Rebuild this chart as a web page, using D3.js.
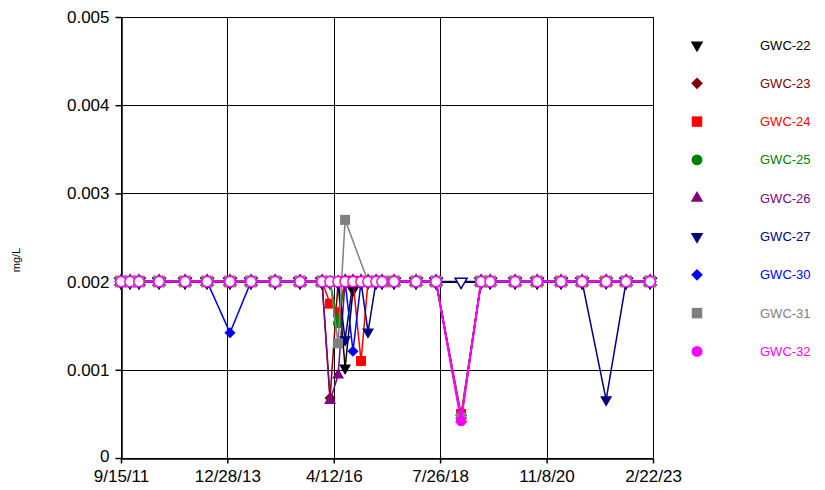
<!DOCTYPE html>
<html>
<head>
<meta charset="utf-8">
<script src="https://cdn.jsdelivr.net/npm/d3@7"></script>
<style>
    body { margin: 0; background: #fff; }
    svg text { font-family: "Liberation Sans", Arial, sans-serif; }
</style>
</head>
<body>
<svg id="chart" width="825" height="490"></svg>
<script>
// sampling dates (shared by all wells)
const dates = ["2011-09-15", "2011-11-25", "2012-02-03", "2012-07-10", "2013-01-30", "2013-07-22",
    "2014-01-18", "2014-07-02", "2015-01-07", "2015-07-22", "2016-01-11", "2016-03-14",
    "2016-05-16", "2016-07-10", "2016-09-10", "2016-11-12", "2017-01-06", "2017-03-10",
    "2017-04-26", "2017-07-29", "2018-01-18", "2018-06-24", "2019-01-07", "2019-06-13",
    "2019-08-23", "2020-03-06", "2020-08-26", "2021-03-02", "2021-08-14", "2022-02-19",
    "2022-07-26", "2023-01-30"];

// mg/L, 0.002 = reporting limit (non-detect)
const gwc22 = [0.002, 0.002, 0.002, 0.002, 0.002, 0.002, 0.002, 0.002, 0.002, 0.002,
    0.002, 0.002, 0.002, 0.00102, 0.0019, 0.002, 0.002, 0.002, 0.002, 0.002,
    0.002, 0.002, 0.00045, 0.002, 0.002, 0.002, 0.002, 0.002, 0.002, 0.002,
    0.002, 0.002];
const gwc23 = [0.002, 0.002, 0.002, 0.002, 0.002, 0.002, 0.002, 0.002, 0.002, 0.002,
    0.002, 0.00068, 0.002, 0.002, 0.002, 0.002, 0.002, 0.002, 0.002, 0.002,
    0.002, 0.002, 0.00046, 0.002, 0.002, 0.002, 0.002, 0.002, 0.002, 0.002,
    0.002, 0.002];
const gwc24 = [0.002, 0.002, 0.002, 0.002, 0.002, 0.002, 0.002, 0.002, 0.002, 0.002,
    0.002, 0.00175, 0.00165, 0.002, 0.002, 0.0011, 0.002, 0.002, 0.002, 0.002,
    0.002, 0.002, 0.0005, 0.002, 0.002, 0.002, 0.002, 0.002, 0.002, 0.002,
    0.002, 0.002];
const gwc25 = [0.002, 0.002, 0.002, 0.002, 0.002, 0.002, 0.002, 0.002, 0.002, 0.002,
    0.002, 0.002, 0.00153, 0.002, 0.002, 0.002, 0.002, 0.002, 0.002, 0.002,
    0.002, 0.002, 0.00045, 0.002, 0.002, 0.002, 0.002, 0.002, 0.002, 0.002,
    0.002, 0.002];
const gwc26 = [0.002, 0.002, 0.002, 0.002, 0.002, 0.002, 0.002, 0.002, 0.002, 0.002,
    0.002, 0.00065, 0.00094, 0.002, 0.002, 0.002, 0.002, 0.002, 0.002, 0.002,
    0.002, 0.002, 0.00044, 0.002, 0.002, 0.002, 0.002, 0.002, 0.002, 0.002,
    0.002, 0.002];
const gwc27 = [0.002, 0.002, 0.002, 0.002, 0.002, 0.002, 0.002, 0.002, 0.002, 0.002,
    0.002, 0.002, 0.002, 0.00134, 0.002, 0.002, 0.00143, 0.002, 0.002, 0.002,
    0.002, 0.002, 0.002, 0.002, 0.002, 0.002, 0.002, 0.002, 0.002, 0.00066,
    0.002, 0.002];
const gwc30 = [0.002, 0.002, 0.002, 0.002, 0.002, 0.002, 0.00142, 0.002, 0.002, 0.002,
    0.002, 0.002, 0.002, 0.002, 0.00121, 0.002, 0.002, 0.002, 0.002, 0.002,
    0.002, 0.002, 0.00045, 0.002, 0.002, 0.002, 0.002, 0.002, 0.002, 0.002,
    0.002, 0.002];
const gwc31 = [0.002, 0.002, 0.002, 0.002, 0.002, 0.002, 0.002, 0.002, 0.002, 0.002,
    0.002, 0.002, 0.0013, 0.0027, null, null, 0.002, 0.002, 0.002, 0.002,
    0.002, 0.002, 0.00046, 0.002, 0.002, 0.002, 0.002, 0.002, 0.002, 0.002,
    0.002, 0.002];
const gwc32 = [0.002, 0.002, 0.002, 0.002, 0.002, 0.002, 0.002, 0.002, 0.002, 0.002,
    0.002, 0.002, 0.002, 0.002, 0.002, 0.002, 0.002, 0.002, 0.002, 0.002,
    0.002, 0.002, 0.00042, 0.002, 0.002, 0.002, 0.002, 0.002, 0.002, 0.002,
    0.002, 0.002];

const wellNames = ["GWC-22", "GWC-23", "GWC-24", "GWC-25", "GWC-26", "GWC-27", "GWC-30", "GWC-31", "GWC-32"];
const xTickLabels = ["9/15/11", "12/28/13", "4/12/16", "7/26/18", "11/8/20", "2/22/23"];
const yTickValues = [0, 0.001, 0.002, 0.003, 0.004, 0.005];
const reportingLimit = 0.002;

var seriesValues = [gwc22, gwc23, gwc24, gwc25, gwc26, gwc27, gwc30, gwc31, gwc32];
var colors = ["#000000", "#800000", "#ff0000", "#008000", "#800080", "#000080", "#0000ff", "#808080", "#ff00ff"];
var shapes = ["down", "diamond", "square", "circle", "triangle", "down", "diamond", "square", "circle"];

var svg = d3.select("#chart");

var parse = d3.timeParse("%m/%d/%y");
var parseIso = d3.timeParse("%Y-%m-%d");
var xTicks = xTickLabels.map(parse);

var x = d3.scaleTime()
    .domain([xTicks[0], xTicks[xTicks.length - 1]])
    .range([121, 653]);

var y = d3.scaleLinear()
    .domain([0, 0.005])
    .range([458, 17]);

// gridlines
var grid = svg.append("g").attr("stroke", "#000").attr("stroke-width", 1);
grid.selectAll(".vg").data(xTicks).enter().append("line")
    .attr("x1", function (d) { return Math.round(x(d)) + 0.5; })
    .attr("x2", function (d) { return Math.round(x(d)) + 0.5; })
    .attr("y1", y(0.005)).attr("y2", y(0));
grid.selectAll(".hg").data(yTickValues).enter().append("line")
    .attr("x1", x.range()[0]).attr("x2", x.range()[1])
    .attr("y1", function (d) { return Math.round(y(d)) + 0.5; })
    .attr("y2", function (d) { return Math.round(y(d)) + 0.5; });

// axes
var xAxis = d3.axisBottom(x).tickValues(xTicks)
    .tickFormat(function (d, i) { return xTickLabels[i]; })
    .tickSizeInner(5).tickSizeOuter(0).tickPadding(6);
var gx = svg.append("g").attr("transform", "translate(0," + (Math.round(y(0)) + 0.5) + ")").call(xAxis);

var yAxis = d3.axisLeft(y).tickValues(yTickValues)
    .tickFormat(function (d) { return d === 0 ? "0" : d3.format(".3f")(d); })
    .tickSizeInner(6).tickSizeOuter(0).tickPadding(6);
var gy = svg.append("g").attr("transform", "translate(" + (Math.round(x.range()[0]) + 0.5) + ",0)").call(yAxis);

[gx, gy].forEach(function (g) {
    g.select(".domain").attr("stroke", "#000").attr("stroke-width", 1.5);
    g.selectAll(".tick line").attr("stroke", "#000").attr("stroke-width", 1.5);
    g.selectAll("text").attr("font-size", 17).attr("fill", "#000")
        .style("font-family", "'Liberation Sans', Arial, sans-serif");
});
// lift the "0" label a touch so it clears the first date label
gy.selectAll(".tick text").filter(function (d) { return d === 0; }).attr("dy", "0.2em");

svg.append("text")
    .attr("transform", "translate(20," + 260 + ") rotate(-90)")
    .attr("text-anchor", "middle")
    .attr("font-size", 11)
    .text("mg/L");

function symbolPath(shape, size) {
    if (shape === "circle") return d3.symbol(d3.symbolCircle, size * 0.85)();
    if (shape === "square") return d3.symbol(d3.symbolSquare, size)();
    if (shape === "diamond") return d3.symbol(d3.symbolSquare, size * 0.62)();
    return d3.symbol(d3.symbolTriangle, size * 0.62)();
}

function drawMarker(g, shape, color, cx, cy, hollow, size) {
    var rot = shape === "down" ? " rotate(180)" : (shape === "diamond" ? " rotate(45)" : "");
    g.append("path")
        .attr("d", symbolPath(shape, size))
        .attr("transform", "translate(" + cx + "," + cy + ")" + rot)
        .attr("fill", hollow ? "#fff" : color)
        .attr("stroke", color)
        .attr("stroke-width", hollow ? 1.5 : 0);
}

var line = d3.line()
    .x(function (d) { return x(d.date); })
    .y(function (d) { return y(d.v); });

seriesValues.forEach(function (vals, s) {
    var pts = [];
    vals.forEach(function (v, i) {
        if (v != null) pts.push({date: parseIso(dates[i]), v: v});
    });
    var g = svg.append("g");
    g.append("path")
        .attr("d", line(pts))
        .attr("fill", "none")
        .attr("stroke", colors[s])
        .attr("stroke-width", s === 8 ? 2 : 1.5);
    pts.forEach(function (p) {
        drawMarker(g, shapes[s], colors[s], x(p.date), y(p.v), p.v === reportingLimit, 100);
    });
});

// legend
var legend = svg.append("g");
wellNames.forEach(function (name, i) {
    var ly = 45 + i * 38.3;
    drawMarker(legend, shapes[i], colors[i], 697, ly, false, 110);
    legend.append("text")
        .attr("x", 760).attr("y", ly + 4.5)
        .attr("font-size", 13)
        .attr("fill", colors[i])
        .text(name);
});
</script>
</body>
</html>
